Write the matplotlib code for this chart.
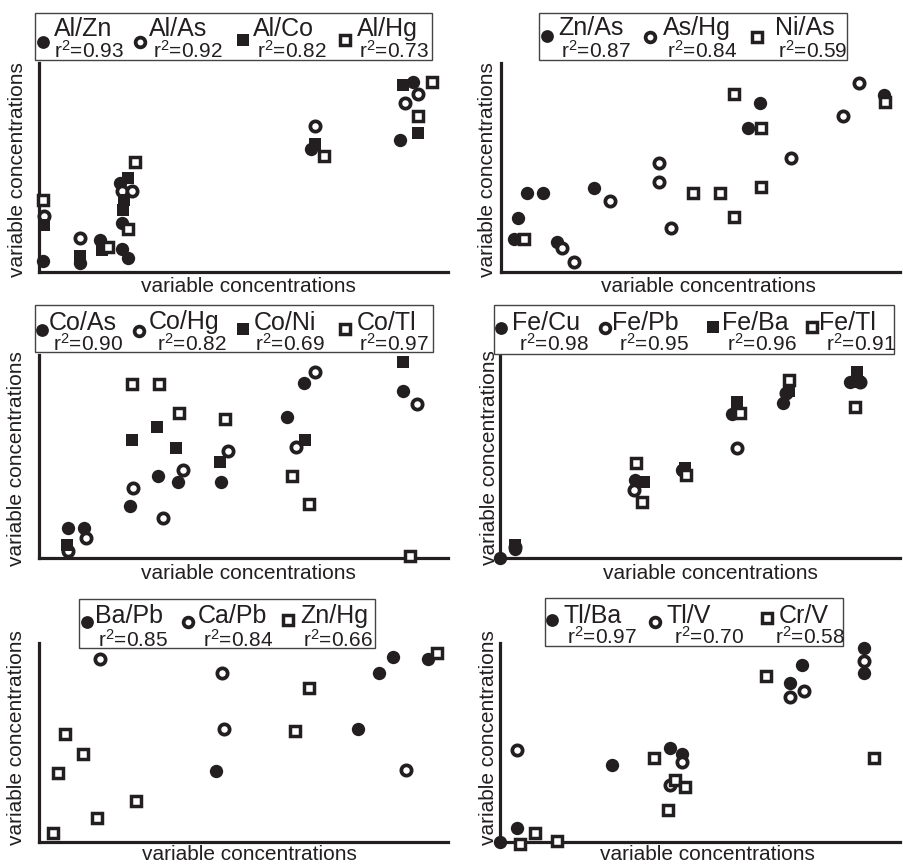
import matplotlib
matplotlib.use('Agg')
import matplotlib.pyplot as plt
from matplotlib.patches import Rectangle
from matplotlib.lines import Line2D

plt.rcParams['font.family'] = ['Liberation Sans', 'DejaVu Sans']
plt.rcParams['mathtext.fontset'] = 'custom'
plt.rcParams['mathtext.rm'] = 'Liberation Sans'
plt.rcParams['mathtext.it'] = 'Liberation Sans'
plt.rcParams['mathtext.default'] = 'regular'

# ---------------- data (relative concentrations, arbitrary units) ----------------
AXIS_LABEL = "variable concentrations"

# Panel 1
AL_ZN_X = [3.7, 41, 61, 82.4, 89, 82.4, 80.7, 271.7, 360.7, 374]
AL_ZN_Y = [10.3, 8.7, 32, 23, 13.7, 48.7, 88.7, 123, 132, 189.3]
AL_AS_X = [4.3, 40.7, 82.4, 92.4, 275.3, 365.7, 379]
AL_AS_Y = [55.3, 33.7, 80.3, 80.3, 145.3, 168.7, 178]
AL_CO_X = [4.3, 40.7, 62.4, 84, 85, 89, 275.3, 364, 379]
AL_CO_Y = [47, 16, 22, 62, 72, 94, 128, 187, 138.7]
AL_HG_X = [4, 69, 89, 96, 284.3, 392.4, 379]
AL_HG_Y = [72, 24.7, 42.7, 109.3, 115.3, 189.3, 156]

# Panel 2
ZN_AS_X = [12.4, 16.4, 25.7, 41.4, 55.7, 92.4, 246.4, 259, 383]
ZN_AS_Y = [32.4, 53.4, 78.4, 79, 30, 84, 144, 168.4, 176.7]
AS_HG_X = [60.7, 72.4, 108.4, 158, 158, 170, 289.7, 341.7, 358]
AS_HG_Y = [23.4, 10, 70.7, 109, 90, 43.4, 113.4, 155.7, 189]
NI_AS_X = [22.4, 191.7, 218.4, 232.4, 232.4, 260, 260, 384]
NI_AS_Y = [32.4, 79, 79, 177.4, 54.4, 144, 85, 170]

# Panel 3
CO_AS_X = [28.4, 45, 90.7, 118.4, 138.4, 181.4, 248, 265, 364]
CO_AS_Y = [30, 30, 52.3, 82.7, 76.7, 76.7, 141, 175, 167.7]
CO_HG_X = [28.4, 46.7, 93.4, 124, 143.4, 188.4, 256.4, 275.7, 377.4]
CO_HG_Y = [7.7, 20.7, 70, 40.7, 88.3, 107.3, 111.7, 186.7, 154]
CO_NI_X = [27.4, 92.4, 118, 136.7, 180.7, 265.7, 364]
CO_NI_Y = [13.3, 118.3, 131.7, 110.7, 96.7, 118.3, 196.7]
CO_TL_X = [93, 120, 140, 185.7, 252.4, 270, 370.7]
CO_TL_Y = [174, 174, 145, 139, 82.3, 54, 2.3]

# Panel 4
FE_CU_X = [0, 15, 134.4, 181.7, 231.7, 282.7, 350]
FE_CU_Y = [0, 9.3, 78.3, 88.3, 144.3, 155, 176]
FE_PB_X = [15, 133.4, 183, 236.7, 286, 360]
FE_PB_Y = [11, 68.3, 88, 110.7, 165, 176]
FE_BA_X = [15, 143.4, 185, 236.7, 288.3, 357, 358]
FE_BA_Y = [13.3, 76, 90, 156.7, 167.3, 186, 176]
FE_TL_X = [136, 141.7, 186, 240, 288.3, 355]
FE_TL_Y = [95, 56.7, 83.3, 145, 178.3, 151]

# Panel 5
BA_PB_X = [176.4, 318.4, 339.7, 354, 389]
BA_PB_Y = [70.7, 112.3, 169, 184.3, 182.7]
CA_PB_X = [60.7, 182.4, 184.7, 366.7]
CA_PB_Y = [182.3, 169, 112.3, 71.7]
ZN_HG_X = [14, 18.4, 25.7, 44, 57.4, 96.7, 255.7, 269.7, 397.4]
ZN_HG_Y = [8.3, 68.3, 107.7, 87.3, 23.3, 40.7, 110.7, 154, 188.3]

# Panel 6
TL_BA_X = [0, 16.7, 111.7, 169.7, 181.4, 290, 301.7, 364, 364]
TL_BA_Y = [0, 13.3, 76.7, 93.4, 87.7, 159, 176.7, 193.3, 168.3]
TL_V_X = [16.7, 181.4, 169.7, 290, 303.4, 364]
TL_V_Y = [91.7, 80, 56.7, 145, 151, 181]
CR_V_X = [20, 34.4, 56.7, 153.4, 174.7, 184.7, 168, 266, 373.4]
CR_V_Y = [-2.7, 8.3, 0.7, 83.3, 61.7, 55, 31.7, 166, 83.3]

# ---------------- styling ----------------
W, H = 904, 864
INK = '#231f20'
STYLES = {
    'fc': dict(marker='o', markersize=9.6, markerfacecolor=INK, markeredgecolor=INK, markeredgewidth=0),
    'oc': dict(marker='o', markersize=7.4, markerfacecolor='white', markeredgecolor=INK, markeredgewidth=2.7),
    'fs': dict(marker='s', markersize=9.0, markerfacecolor=INK, markeredgecolor=INK, markeredgewidth=0),
    'os': dict(marker='s', markersize=6.8, markerfacecolor='white', markeredgecolor=INK, markeredgewidth=2.5),
}
LEG_STYLES = {
    'fc': dict(marker='o', markersize=9.2, markerfacecolor=INK, markeredgecolor=INK, markeredgewidth=0),
    'oc': dict(marker='o', markersize=7.0, markerfacecolor='white', markeredgecolor=INK, markeredgewidth=2.7),
    'fs': dict(marker='s', markersize=8.8, markerfacecolor=INK, markeredgecolor=INK, markeredgewidth=0),
    'os': dict(marker='s', markersize=6.8, markerfacecolor='white', markeredgecolor=INK, markeredgewidth=2.5),
}

panels = [
    dict(ax=(39.3, 63, 448, 271.7),
         series=[('Al/Zn', '0.93', AL_ZN_X, AL_ZN_Y, 'fc'),
                 ('Al/As', '0.92', AL_AS_X, AL_AS_Y, 'oc'),
                 ('Al/Co', '0.82', AL_CO_X, AL_CO_Y, 'fs'),
                 ('Al/Hg', '0.73', AL_HG_X, AL_HG_Y, 'os')],
         box=(35, 12.7, 432, 60),
         ent=[(43.3, 41.7, 54, 36, 54, 57.3), (140, 41.7, 149.3, 36, 152.7, 57.3),
              (242.7, 40, 252.7, 36, 256.7, 57.3), (345, 40, 357.3, 36, 359.3, 57.3)],
         ylab=(18, 170), xlab=(248, 286.7)),
    dict(ax=(501.3, 63, 900, 271.7),
         series=[('Zn/As', '0.87', ZN_AS_X, ZN_AS_Y, 'fc'),
                 ('As/Hg', '0.84', AS_HG_X, AS_HG_Y, 'oc'),
                 ('Ni/As', '0.59', NI_AS_X, NI_AS_Y, 'os')],
         box=(539.3, 12.7, 847, 60),
         ent=[(547, 36, 558, 35, 561.3, 57.3), (650.3, 36.7, 662.7, 35, 667, 57.3),
              (757, 36.7, 775.3, 35, 778, 57.3)],
         ylab=(488, 170), xlab=(708.7, 286)),
    dict(ax=(39.3, 355, 448, 558.3),
         series=[('Co/As', '0.90', CO_AS_X, CO_AS_Y, 'fc'),
                 ('Co/Hg', '0.82', CO_HG_X, CO_HG_Y, 'oc'),
                 ('Co/Ni', '0.69', CO_NI_X, CO_NI_Y, 'fs'),
                 ('Co/Tl', '0.97', CO_TL_X, CO_TL_Y, 'os')],
         box=(35, 305, 433.3, 352.3),
         ent=[(41.7, 330, 48.3, 329.5, 53.3, 351), (139.3, 331, 149, 329.5, 156.7, 351),
              (242.7, 329, 253.3, 329.5, 255, 351), (345, 329, 356.7, 329.5, 359.3, 351)],
         ylab=(17, 459), xlab=(248, 573.5)),
    dict(ax=(500.3, 355, 900, 558.3),
         series=[('Fe/Cu', '0.98', FE_CU_X, FE_CU_Y, 'fc'),
                 ('Fe/Pb', '0.95', FE_PB_X, FE_PB_Y, 'oc'),
                 ('Fe/Ba', '0.96', FE_BA_X, FE_BA_Y, 'fs'),
                 ('Fe/Tl', '0.91', FE_TL_X, FE_TL_Y, 'os')],
         box=(493.7, 305, 893.7, 354.3),
         ent=[(501.3, 328.3, 512, 330, 518.7, 351), (604.7, 328.3, 612, 330, 618.7, 351),
              (713, 326.7, 722, 330, 727, 351), (812, 326.7, 818.7, 330, 826, 351)],
         ylab=(490, 458), xlab=(710, 573.5)),
    dict(ax=(39.3, 643.3, 448, 841.7),
         series=[('Ba/Pb', '0.85', BA_PB_X, BA_PB_Y, 'fc'),
                 ('Ca/Pb', '0.84', CA_PB_X, CA_PB_Y, 'oc'),
                 ('Zn/Hg', '0.66', ZN_HG_X, ZN_HG_Y, 'os')],
         box=(79.3, 599, 375, 647.7),
         ent=[(86.7, 621.7, 95, 623.3, 98.3, 646.7), (188.3, 621.7, 197.3, 623.3, 202.7, 646.7),
              (288.3, 620, 300, 623.3, 303.3, 646.7)],
         ylab=(17, 738), xlab=(249, 854)),
    dict(ax=(500.3, 643.3, 900, 841.7),
         series=[('Tl/Ba', '0.97', TL_BA_X, TL_BA_Y, 'fc'),
                 ('Tl/V', '0.70', TL_V_X, TL_V_Y, 'oc'),
                 ('Cr/V', '0.58', CR_V_X, CR_V_Y, 'os')],
         box=(544.7, 598.3, 842.7, 645.7),
         ent=[(552, 620, 563.7, 623.3, 567, 644.3), (655.3, 621.7, 667, 623.3, 673.7, 644.3),
              (767, 617.7, 778.7, 623.3, 775.3, 644.3)],
         ylab=(488.7, 738), xlab=(707, 854)),
]


def fx(x):
    return x / W


def fy(y):
    return 1 - y / H


fig = plt.figure(figsize=(W / 100, H / 100), dpi=100)
fig.patch.set_facecolor('white')

for p in panels:
    l, t, r, b = p['ax']
    ax = fig.add_axes([fx(l), fy(b), (r - l) / W, (b - t) / H])
    ax.set_xlim(0, r - l)
    ax.set_ylim(0, b - t)
    ax.set_xticks([])
    ax.set_yticks([])
    for s in ['top', 'right']:
        ax.spines[s].set_visible(False)
    for s in ['left', 'bottom']:
        ax.spines[s].set_linewidth(2.3)
        ax.spines[s].set_color(INK)
    ax.patch.set_alpha(0)
    for name, r2, xs, ys, st in p['series']:
        ax.plot(xs, ys, linestyle='none', clip_on=False, zorder=3, **STYLES[st])

    # legend box
    bl, bt, br, bb = p['box']
    fig.add_artist(Rectangle((fx(bl), fy(bb)), (br - bl) / W, (bb - bt) / H,
                             transform=fig.transFigure, facecolor='white',
                             edgecolor='#444444', linewidth=1.0, zorder=5))
    for (name, r2, xs, ys, st), (mx, my, nx, ny, rx, ry) in zip(p['series'], p['ent']):
        fig.add_artist(Line2D([fx(mx)], [fy(my)], transform=fig.transFigure,
                              linestyle='none', zorder=6, **LEG_STYLES[st]))
        fig.text(fx(nx), fy(ny), name, fontsize=18, color=INK, ha='left', va='baseline', zorder=6)
        fig.text(fx(rx), fy(ry), 'r$^{2}$=' + r2, fontsize=15, color=INK, ha='left',
                 va='baseline', zorder=6)

    fig.text(fx(p['ylab'][0]), fy(p['ylab'][1]), AXIS_LABEL, rotation=90, fontsize=15,
             color=INK, ha='center', va='center')
    fig.text(fx(p['xlab'][0]), fy(p['xlab'][1]), AXIS_LABEL, fontsize=15,
             color=INK, ha='center', va='center')

fig.savefig('out.png', dpi=100, facecolor='white')
